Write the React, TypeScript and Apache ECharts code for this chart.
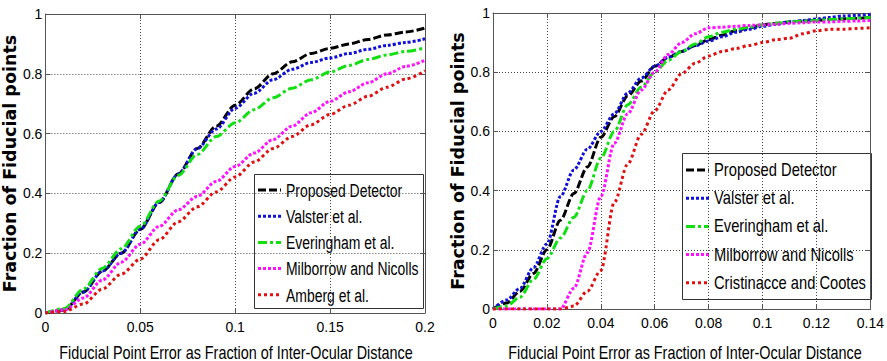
import React, { useEffect, useRef } from "react";
import * as echarts from "echarts";

// ---------- data ----------
const leftX = [0, 0.01, 0.02, 0.03, 0.04, 0.05, 0.06, 0.07, 0.08, 0.09, 0.1, 0.11, 0.12, 0.13, 0.14, 0.15, 0.16, 0.17, 0.18, 0.19, 0.2];
const leftProposed = [0, 0.01, 0.07, 0.14, 0.2, 0.28, 0.37, 0.465, 0.55, 0.625, 0.695, 0.75, 0.8, 0.84, 0.868, 0.885, 0.9, 0.915, 0.93, 0.94, 0.953];
const leftValster = [0, 0.01, 0.07, 0.14, 0.2, 0.28, 0.37, 0.465, 0.55, 0.615, 0.685, 0.735, 0.78, 0.815, 0.838, 0.853, 0.868, 0.882, 0.895, 0.905, 0.917];
const leftEveringham = [0, 0.015, 0.08, 0.15, 0.215, 0.29, 0.375, 0.46, 0.53, 0.59, 0.636, 0.68, 0.72, 0.752, 0.78, 0.806, 0.828, 0.848, 0.863, 0.875, 0.887];
const leftMilborrow = [0, 0.01, 0.05, 0.11, 0.17, 0.23, 0.29, 0.345, 0.39, 0.44, 0.49, 0.535, 0.58, 0.625, 0.67, 0.708, 0.74, 0.77, 0.8, 0.825, 0.845];
const leftAmberg = [0, 0.005, 0.03, 0.08, 0.13, 0.18, 0.245, 0.305, 0.355, 0.405, 0.455, 0.505, 0.55, 0.59, 0.63, 0.664, 0.695, 0.725, 0.755, 0.783, 0.81];

const rightX = [0, 0.005, 0.01, 0.015, 0.02, 0.025, 0.03, 0.035, 0.04, 0.045, 0.05, 0.055, 0.06, 0.065, 0.07, 0.075, 0.08, 0.085, 0.09, 0.095, 0.1, 0.105, 0.11, 0.115, 0.12, 0.125, 0.13, 0.135, 0.14];
const rightProposed = [0, 0.02, 0.06, 0.12, 0.2, 0.3, 0.39, 0.48, 0.58, 0.65, 0.72, 0.77, 0.82, 0.85, 0.87, 0.89, 0.91, 0.925, 0.94, 0.95, 0.96, 0.965, 0.97, 0.972, 0.975, 0.978, 0.98, 0.982, 0.985];
const rightValster = [0, 0.03, 0.07, 0.14, 0.22, 0.38, 0.47, 0.54, 0.6, 0.66, 0.73, 0.78, 0.82, 0.85, 0.87, 0.89, 0.905, 0.92, 0.935, 0.945, 0.955, 0.962, 0.97, 0.975, 0.98, 0.985, 0.99, 0.992, 0.995];
const rightEveringham = [0, 0.01, 0.04, 0.1, 0.17, 0.24, 0.31, 0.4, 0.51, 0.6, 0.69, 0.75, 0.8, 0.84, 0.87, 0.895, 0.92, 0.935, 0.945, 0.952, 0.96, 0.965, 0.97, 0.972, 0.975, 0.978, 0.98, 0.982, 0.985];
const rightMilborrow = [0, 0, 0, 0, 0, 0, 0.07, 0.19, 0.38, 0.56, 0.66, 0.74, 0.8, 0.86, 0.9, 0.93, 0.95, 0.952, 0.955, 0.958, 0.96, 0.962, 0.965, 0.967, 0.97, 0.97, 0.972, 0.973, 0.975];
const rightCristinacce = [0, 0, 0, 0, 0, 0, 0.01, 0.06, 0.13, 0.36, 0.49, 0.59, 0.67, 0.74, 0.795, 0.83, 0.855, 0.87, 0.88, 0.89, 0.9, 0.91, 0.915, 0.93, 0.94, 0.945, 0.945, 0.948, 0.95];

const leftNames = ["Proposed Detector", "Valster et al.", "Everingham et al.", "Milborrow and Nicolls", "Amberg et al."];
const rightNames = ["Proposed Detector", "Valster et al.", "Everingham et al.", "Milborrow and Nicolls", "Cristinacce and Cootes"];
const yTicks = [0, 0.2, 0.4, 0.6, 0.8, 1];
const xTitle = "Fiducial Point Error as Fraction of Inter-Ocular Distance";
const yTitle = "Fraction of Fiducial points";

// ---------- styles ----------
const SANS = "'Liberation Sans', Arial, sans-serif";
const styles: Record<string, { color: string; type: number[] }> = {
  "Proposed Detector": { color: "#000000", type: [8, 3] },
  "Valster et al.": { color: "#1010d8", type: [3, 2] },
  "Everingham et al.": { color: "#10e010", type: [9, 3, 3, 3] },
  "Milborrow and Nicolls": { color: "#ff10ff", type: [3, 2] },
  "Amberg et al.": { color: "#e01010", type: [3, 3] },
  "Cristinacce and Cootes": { color: "#e01010", type: [3, 3] },
};

function zip(xs: number[], ys: number[]) {
  return xs.map((x, i) => [x, ys[i]]);
}

function legendGraphic(
  names: string[],
  box: { x: number; y: number; w: number; h: number },
  rowY0: number,
  rowStep: number,
  iconX: number,
  iconW: number,
  textX: number,
  fontSize: number,
  scaleX: number
) {
  const children: any[] = [
    {
      type: "rect",
      shape: { x: box.x, y: box.y, width: box.w, height: box.h },
      style: { fill: "#fff", stroke: "#333", lineWidth: 1 },
    },
  ];
  names.forEach((n, i) => {
    const y = rowY0 + i * rowStep;
    children.push({
      type: "line",
      shape: { x1: iconX, y1: y, x2: iconX + iconW, y2: y },
      style: { stroke: styles[n].color, lineWidth: 3, lineDash: styles[n].type },
    });
    children.push({
      type: "text",
      x: textX,
      y,
      scaleX,
      style: {
        text: n,
        x: 0,
        y: 0,
        fill: "#000",
        font: `${fontSize}px ${SANS}`,
        align: "left",
        verticalAlign: "middle",
      },
    });
  });
  return { type: "group", children };
}

export default function App() {
  const ref = useRef<HTMLDivElement>(null);
  useEffect(() => {
    if (!ref.current) return;
    const chart = echarts.init(ref.current, null, { renderer: "svg" });
    const grids = [
      { left: 45, top: 14, width: 380, bottom: 48 },
      { left: 493, top: 13, right: 12, bottom: 52 },
    ];
    const frameColor = "#555";
    const tickLabel = { fontFamily: SANS, fontSize: 14, color: "#000" };
    const split = { show: true, lineStyle: { color: "#444", type: [1, 2] as any, width: 1 } };
    const mkX = (gi: number, max: number, interval: number, main: boolean) => ({
      type: "value",
      gridIndex: gi,
      min: 0,
      max,
      interval,
      position: main ? "bottom" : "top",
      axisLine: { show: true, onZero: false, lineStyle: { color: frameColor, width: 1 } },
      axisTick: { show: true, inside: true, length: 5, lineStyle: { color: frameColor } },
      axisLabel: main ? { ...tickLabel, margin: 7, showMaxLabel: true, showMinLabel: true } : { show: false },
      splitLine: main ? split : { show: false },
    });
    const mkY = (gi: number, main: boolean) => ({
      type: "value",
      gridIndex: gi,
      min: 0,
      max: 1,
      interval: 0.2,
      position: main ? "left" : "right",
      axisLine: { show: true, onZero: false, lineStyle: { color: frameColor, width: 1 } },
      axisTick: { show: true, inside: true, length: 5, lineStyle: { color: frameColor } },
      axisLabel: main
        ? { ...tickLabel, margin: 3, formatter: (v: number) => String(yTicks.find((t) => Math.abs(t - v) < 1e-9) ?? v) }
        : { show: false },
      splitLine: main ? split : { show: false },
      name: main ? yTitle : "",
      nameLocation: "middle",
      nameGap: 21,
      nameTextStyle: { fontFamily: "'DejaVu Sans', sans-serif", fontWeight: "bold", fontSize: 17.5, color: "#000" },
    });
    const mkSeries = (name: string, xs: number[], ys: number[], gi: number) => ({
      type: "line",
      name,
      xAxisIndex: gi,
      yAxisIndex: gi,
      data: zip(xs, ys),
      symbol: "none",
      smooth: 0.3,
      smoothMonotone: "x",
      lineStyle: { color: styles[name].color, type: styles[name].type, width: 3 },
      itemStyle: { color: styles[name].color },
    });
    const xTitleText = (cx: number) => ({
      type: "text",
      x: cx,
      y: 352,
      scaleX: 0.8,
      style: {
        text: xTitle,
        x: 0,
        y: 0,
        fill: "#000",
        font: `18px ${SANS}`,
        align: "center",
        verticalAlign: "middle",
      },
    });
    chart.setOption({
      animation: false,
      backgroundColor: "#fff",
      grid: grids,
      xAxis: [mkX(0, 0.2, 0.05, true), mkX(1, 0.14, 0.02, true), mkX(0, 0.2, 0.05, false), mkX(1, 0.14, 0.02, false)],
      yAxis: [mkY(0, true), mkY(1, true), mkY(0, false), mkY(1, false)],
      graphic: [
        legendGraphic(leftNames, { x: 254.5, y: 174.5, w: 169, h: 134 }, 190, 26.2, 258, 23, 286, 18, 0.775),
        legendGraphic(rightNames, { x: 682.5, y: 153.5, w: 189, h: 146 }, 170, 28.2, 686, 23, 714, 18.5, 0.795),
        xTitleText(236),
        xTitleText(685),
      ],
      series: [
        mkSeries("Proposed Detector", leftX, leftProposed, 0),
        mkSeries("Valster et al.", leftX, leftValster, 0),
        mkSeries("Everingham et al.", leftX, leftEveringham, 0),
        mkSeries("Milborrow and Nicolls", leftX, leftMilborrow, 0),
        mkSeries("Amberg et al.", leftX, leftAmberg, 0),
        mkSeries("Proposed Detector", rightX, rightProposed, 1),
        mkSeries("Valster et al.", rightX, rightValster, 1),
        mkSeries("Everingham et al.", rightX, rightEveringham, 1),
        mkSeries("Milborrow and Nicolls", rightX, rightMilborrow, 1),
        mkSeries("Cristinacce and Cootes", rightX, rightCristinacce, 1),
      ],
    });
    return () => chart.dispose();
  }, []);
  return <div ref={ref} style={{ width: 887, height: 361, position: "fixed", left: 0, top: 0 }} />;
}
